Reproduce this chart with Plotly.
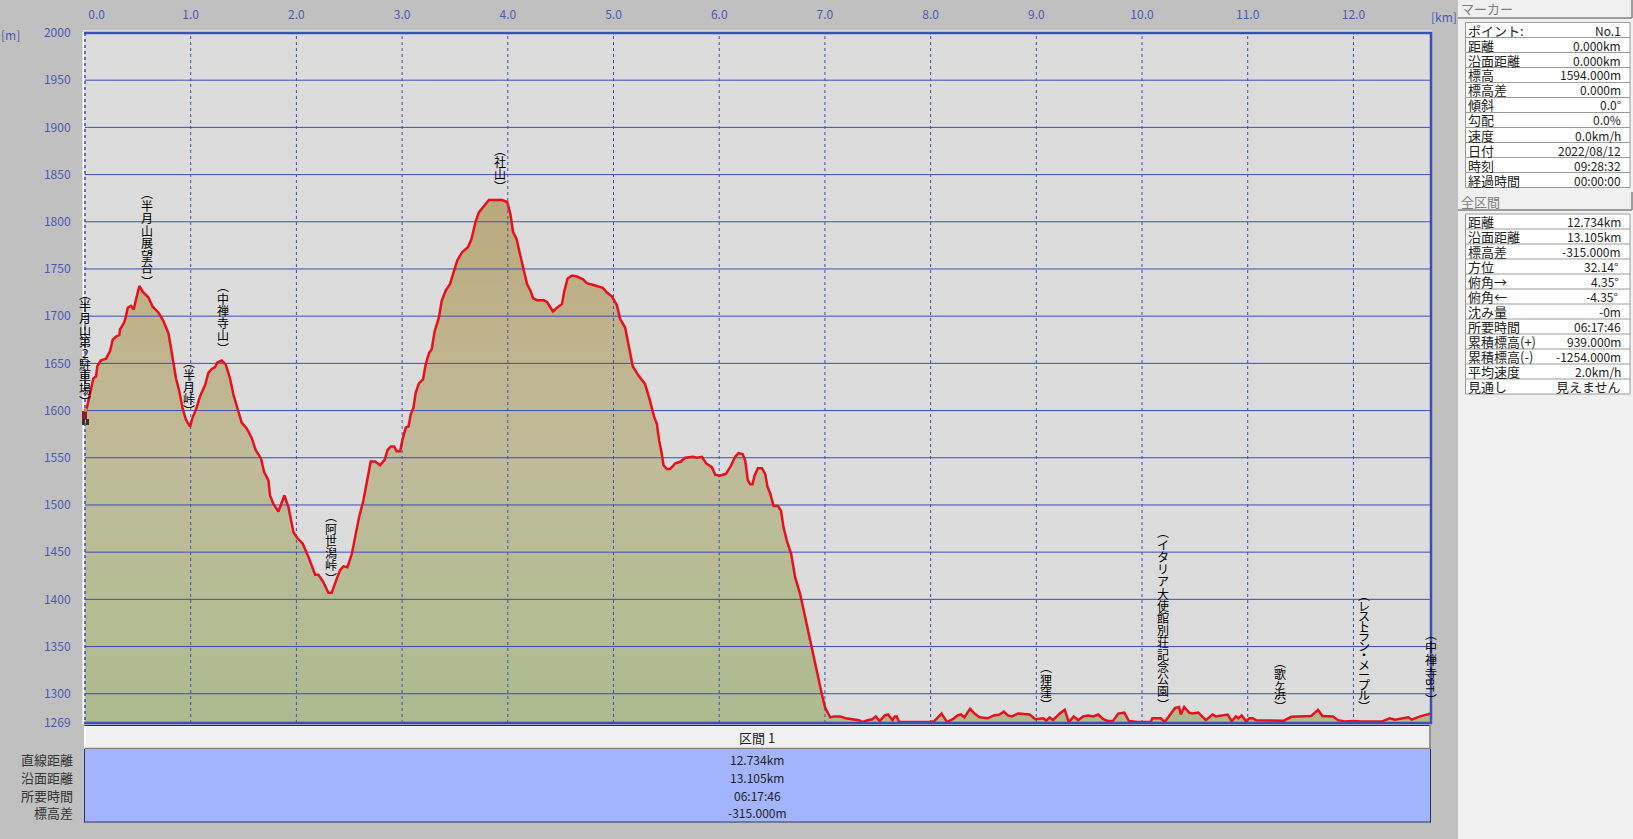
import plotly.graph_objects as go

# ---------- data ----------
km = [0,.016,.047,.079,.104,.117,.148,.199,.237,.262,.300,.325,.331,.369,.388,.404,.435,.461,.483,.514,.546,.577,.599,.640,.694,.741,.789,.811,.836,.861,.893,.924,.956,.994,1.019,1.050,1.088,1.136,1.167,1.199,1.230,1.252,1.293,1.331,1.372,1.404,1.451,1.483,1.530,1.577,1.615,1.666,1.694,1.735,1.751,1.782,1.830,1.861,1.886,1.924,1.972,2.009,2.060,2.114,2.177,2.208,2.256,2.303,2.334,2.382,2.413,2.445,2.483,2.524,2.565,2.593,2.634,2.666,2.703,2.744,2.792,
      2.836,2.862,2.893,2.925,2.947,2.981,3.003,3.035,3.060,3.082,3.107,3.129,3.160,3.198,3.223,3.255,3.280,3.308,3.349,3.374,3.412,3.453,3.491,3.522,3.569,3.623,3.657,3.695,3.726,3.767,3.821,3.868,3.947,3.994,4.025,4.050,4.082,4.119,4.157,4.182,4.214,4.239,4.277,4.340,4.371,4.428,4.465,4.513,4.535,4.566,4.607,4.654,4.711,4.748,4.811,4.849,4.899,4.937,4.984,5.031,5.063,5.110,5.142,5.182,5.236,5.299,5.346,5.385,5.410,5.432,5.457,5.473,5.505,5.536,5.584,5.637,5.678,5.751,5.789,5.836,5.877,5.931,5.962,6.003,6.063,6.104,6.151,6.183,6.221,6.246,6.271,6.293,6.315,6.334,6.366,6.404,6.435,6.457,6.483,6.514,6.555,6.584,6.609,6.640,6.681,6.719,6.767,6.814,6.871,6.924,6.972,7.003,7.050,7.082,7.145,7.196,7.244,7.323,7.354,7.402,7.449,7.481,7.519,7.566,7.598,7.639,7.661,7.680,7.703,7.877,7.924,7.987,8.035,8.104,8.155,8.209,8.256,8.288,8.320,8.373,8.415,8.462,8.541,8.598,8.652,8.693,8.731,8.769,8.826,8.889,8.937,8.991,9.063,9.095,9.127,9.158,9.222,9.269,9.307,9.354,9.396,9.443,9.491,9.538,9.585,9.633,9.680,9.728,9.775,9.832,9.877,9.956,10.082,10.098,10.177,10.215,10.272,10.313,10.351,10.367,10.399,10.446,10.478,10.532,10.604,10.667,10.699,10.763,10.810,10.848,10.889,10.911,10.943,10.984,11.016,11.047,11.079,11.342,11.411,11.601,11.665,11.706,11.807,11.854,11.918,11.997,12.076,12.266,12.345,12.392,12.519,12.551,12.630,12.734]
elev = [1594,1602,1618,1634,1636,1647,1653,1655,1663,1675,1679,1680,1686,1693,1700,1709,1711,1707,1718,1732,1726,1723,1720,1710,1704,1695,1682,1668,1650,1634,1620,1602,1590,1583,1593,1601,1615,1627,1640,1644,1646,1651,1653,1649,1634,1617,1599,1587,1581,1571,1558,1549,1535,1526,1510,1501,1493,1503,1510,1498,1471,1465,1459,1445,1426,1426,1418,1407,1407,1422,1431,1435,1434,1448,1470,1487,1505,1526,1546,1546,1542,
        1548,1558,1562,1562,1557,1557,1569,1582,1583,1596,1603,1619,1629,1633,1649,1661,1665,1684,1699,1716,1727,1734,1748,1759,1768,1773,1782,1800,1810,1816,1823,1823,1823,1821,1808,1789,1782,1764,1745,1734,1727,1719,1717,1717,1715,1705,1709,1713,1727,1740,1743,1742,1739,1735,1733,1732,1730,1725,1721,1712,1697,1688,1670,1647,1637,1628,1610,1593,1586,1568,1554,1542,1538,1538,1544,1546,1550,1551,1550,1551,1544,1540,1532,1531,1533,1540,1551,1555,1554,1547,1526,1522,1522,1531,1539,1539,1533,1519,1512,1499,1499,1494,1476,1462,1448,1423,1405,1380,1349,1324,1299,1285,1275,1276,1276,1274,1273,1272,1270,1272,1273,1276,1271,1277,1278,1272,1276,1276,1270,1270,1270.5,1270,1271,1279,1270,1273,1277,1278,1275,1284,1279,1275,1274,1277,1278,1281,1277,1276,1279,1278,1278,1273,1274,1271.5,1275,1272,1279,1283,1270,1276,1272,1276,1277,1276,1278,1273,1271,1271.5,1279,1280,1271,1270,1270,1274,1274,1270,1278,1285,1286,1278,1286,1280,1279,1280,1272,1278,1276,1277,1278,1271,1276,1274,1277,1271,1274,1274,1272,1271.5,1275.5,1276.5,1283,1276.5,1276,1272,1270.5,1271,1270.5,1270.5,1274,1272.5,1275,1272.5,1276,1279]

x_ticks = [0,1,2,3,4,5,6,7,8,9,10,11,12]
x_labels = ["0.0","1.0","2.0","3.0","4.0","5.0","6.0","7.0","8.0","9.0","10.0","11.0","12.0"]
y_grid = [1300,1350,1400,1450,1500,1550,1600,1650,1700,1750,1800,1850,1900,1950]
y_labels = [1269] + y_grid + [2000]

place_names = ["半月山第2駐車場","半月山展望台","半月峠","中禅寺山","阿世潟峠","社山","狸窪",
               "イタリア大使館別荘記念公園","歌ヶ浜","レストラン・メープル","中禅寺BT"]
place_km = [0.0,.587,.985,1.306,2.33,3.93,9.09,10.2,11.31,12.1,12.734]

marker_rows = [("ポイント:","No.1"),("距離","0.000km"),("沿面距離","0.000km"),("標高","1594.000m"),
               ("標高差","0.000m"),("傾斜","0.0°"),("勾配","0.0%"),("速度","0.0km/h"),
               ("日付","2022/08/12"),("時刻","09:28:32"),("経過時間","00:00:00")]
total_rows = [("距離","12.734km"),("沿面距離","13.105km"),("標高差","-315.000m"),("方位","32.14°\u00a0"),
              ("俯角→","4.35°\u00a0"),("俯角←","-4.35°\u00a0"),("沈み量","-0m"),("所要時間","06:17:46"),
              ("累積標高(+)","939.000m"),("累積標高(-)","-1254.000m"),("平均速度","2.0km/h"),("見通し","見えません")]
section_title = "区間 1"
section_names = ["直線距離","沿面距離","所要時間","標高差"]
section_vals = ["12.734km","13.105km","06:17:46","-315.000m"]

# ---------- style / layout ----------
W, H = 1633, 839
L, R, T, B = 85, 1431, 33, 723
FONT = "Noto Sans CJK JP"
GRID = "#3c4fb4"
TXT = "#4a5ab4"
XMAX = km[-1]

def px(x): return (x - L) / (R - L)
def py(y): return 1 - (y - T) / (B - T)

shapes, ann = [], []

def rect(x0, y0, x1, y1, fill=None, line=None, lw=1, layer="above"):
    shapes.append(dict(type="rect", xref="paper", yref="paper", x0=px(x0), x1=px(x1), y0=py(y0), y1=py(y1),
                       fillcolor=fill or "rgba(0,0,0,0)", line=dict(color=line or "rgba(0,0,0,0)", width=lw if line else 0), layer=layer))

def seg(x0, y0, x1, y1, color, lw=1, dash="solid", layer="above"):
    shapes.append(dict(type="line", xref="paper", yref="paper", x0=px(x0), x1=px(x1), y0=py(y0), y1=py(y1),
                       line=dict(color=color, width=lw, dash=dash), layer=layer))

def text(x, y, s, size=13, color="#222222", anchor="center", angle=0):
    ann.append(dict(xref="paper", yref="paper", x=px(x), y=py(y), text=s, showarrow=False, xanchor=anchor,
                    yanchor="middle", textangle=angle, font=dict(family=FONT, size=size, color=color)))

# axis captions
text(10, 34, "[m]", 12, TXT)
text(1444, 17, "[km]", 12, TXT)

# frame
seg(83.5, 32, 83.5, 724, "#ffffff", 2)
seg(83, 31, 1432, 31, "#ffffff", 1)
seg(84, 33, 1432, 33, GRID, 2.5)
seg(1431, 32, 1431, 724, GRID, 2.5)
seg(84, 723, 1432, 723, GRID, 2.5)
seg(85, 33, 85, 723, GRID, 1.5, "dot")

# section header and value box
rect(84.5, 725.5, 1430, 749, "#f0f0f0")
seg(84.5, 725.5, 1430, 725.5, "#2a2f45", 1)
seg(85, 726, 85, 749, "#ffffff", 2)
seg(84.5, 748.5, 1430, 748.5, "#808080", 1.5)
seg(1430, 725, 1430, 749, "#808080", 1.5)
text(757, 737, section_title, 13)
rect(84.5, 749.5, 1430, 822, "#a4b5ff")
seg(84.5, 749, 84.5, 822.5, "#2a3560", 1)
seg(84.5, 822, 1431, 822, "#2a3560", 1)
seg(1430.5, 749, 1430.5, 822.5, "#2a3560", 1)
for name, val, y in zip(section_names, section_vals, [759, 777, 795, 813]):
    text(75, y, name, 13, "#333333", "right")
    text(757, y, val, 12, "#222222")

# side panel
rect(1458, 0, 1633, 839, "#f0f0f0", layer="below")

def panel(title, y_title, rows, y_top):
    rect(1458, y_title - 9, 1632, y_title + 9, "#f0f0f0")
    seg(1458, y_title + 9, 1632, y_title + 9, "#808080", 1.5)
    seg(1632, y_title - 9, 1632, y_title + 9, "#808080", 1.5)
    text(1459, y_title, title, 13, "#808080", "left")
    rect(1465.5, y_top, 1630, y_top + 15 * len(rows), "#ffffff", "#9a9a9a", 1)
    for i, (lab, val) in enumerate(rows):
        if i:
            seg(1465.5, y_top + 15 * i, 1630, y_top + 15 * i, "#9a9a9a", 1)
        yc = y_top + 15 * i + 7.5
        text(1466, yc, lab, 13, "#222222", "left")
        text(1623, yc, val, 13 if val == "見えません" else 12, "#222222", "right")

panel("マーカー", 9, marker_rows, 22.5)
panel("全区間", 201, total_rows, 214)

# vertical place labels: stacked upright characters with vertical-form brackets
label_span = {"半月山第2駐車場": (295, 399), "半月山展望台": (194, 279), "半月峠": (363, 409), "中禅寺山": (287, 346),
              "阿世潟峠": (517, 576), "社山": (151, 184), "狸窪": (668, 702),
              "イタリア大使館別荘記念公園": (533, 702), "歌ヶ浜": (663, 704),
              "レストラン・メープル": (596, 704), "中禅寺BT": (635, 697)}
for name, k in zip(place_names, place_km):
    top, bot = label_span[name]
    parts = ["BT" if c == "B" else c for c in name.replace("BT", "B")]
    step = (bot - top - 10) / len(parts)
    parts = ["\ufe35"] + parts + ["\ufe36"]
    ys = [top - 2] + [top + 5 + step * (i + .5) for i in range(len(parts) - 2)] + [bot + 2]
    for p, y in zip(parts, ys):
        ann.append(dict(xref="x", yref="paper", x=k, y=py(y), text=p, showarrow=False, xanchor="center", yanchor="middle",
                        textangle=90 if p == "BT" else 0,
                        font=dict(family=FONT, size=11 if p == "BT" else 12, color="#000000")))

# little hiker at the current marker
rect(82, 411, 87, 419, "#8c1f2b")
shapes.append(dict(type="circle", xref="paper", yref="paper", x0=px(83.5), x1=px(87.5), y0=py(408), y1=py(412),
                   fillcolor="#d08a50", line=dict(width=0)))
rect(82, 419, 85, 425, "#3a3428")
rect(86, 419, 89, 425, "#3a3428")

fig = go.Figure()
fig.add_trace(go.Scatter(x=km, y=elev, mode="none", fill="tozeroy", hoverinfo="skip",
                         fillgradient=dict(type="vertical", start=1269, stop=1823,
                                           colorscale=[[0, "#adba90"], [.24, "#b5bc94"], [.5, "#c0bb9a"],
                                                       [.78, "#bfb28a"], [1, "#b9a97c"]])))
hx, hy = [], []
for v in y_grid:
    hx += [0, XMAX, None]
    hy += [v, v, None]
fig.add_trace(go.Scatter(x=hx, y=hy, mode="lines", line=dict(color=GRID, width=1), hoverinfo="skip"))
vx, vy = [], []
for v in x_ticks[1:]:
    vx += [v, v, None]
    vy += [1269, 2000, None]
fig.add_trace(go.Scatter(x=vx, y=vy, mode="lines", line=dict(color=GRID, width=1, dash="dot"), hoverinfo="skip"))
fig.add_trace(go.Scatter(x=km, y=elev, mode="lines", line=dict(color="#e8101c", width=2.5), name="標高"))

fig.update_layout(
    width=W, height=H, showlegend=False,
    margin=dict(l=L, r=W - R, t=T, b=H - B, pad=0, autoexpand=False),
    paper_bgcolor="#c0c0c0", plot_bgcolor="#dcdcdc",
    font=dict(family=FONT, size=12, color=TXT),
    shapes=shapes, annotations=ann,
    xaxis=dict(range=[0, XMAX], side="top", showgrid=False, zeroline=False, showline=False, automargin=False,
               tickmode="array", tickvals=[.11] + x_ticks[1:], ticktext=x_labels,
               ticks="outside", ticklen=8, tickcolor="rgba(0,0,0,0)", tickfont=dict(family=FONT, size=12, color=TXT)),
    yaxis=dict(range=[1269, 2000], showgrid=False, zeroline=False, showline=False, automargin=False,
               tickmode="array", tickvals=y_labels, ticktext=[str(v) for v in y_labels],
               ticks="outside", ticklen=11, tickcolor="rgba(0,0,0,0)", tickfont=dict(family=FONT, size=12, color=TXT)),
)
fig.write_html("out.html", config=dict(displayModeBar=False),
               post_script="document.body.style.margin='0';document.body.style.overflow='hidden';")
